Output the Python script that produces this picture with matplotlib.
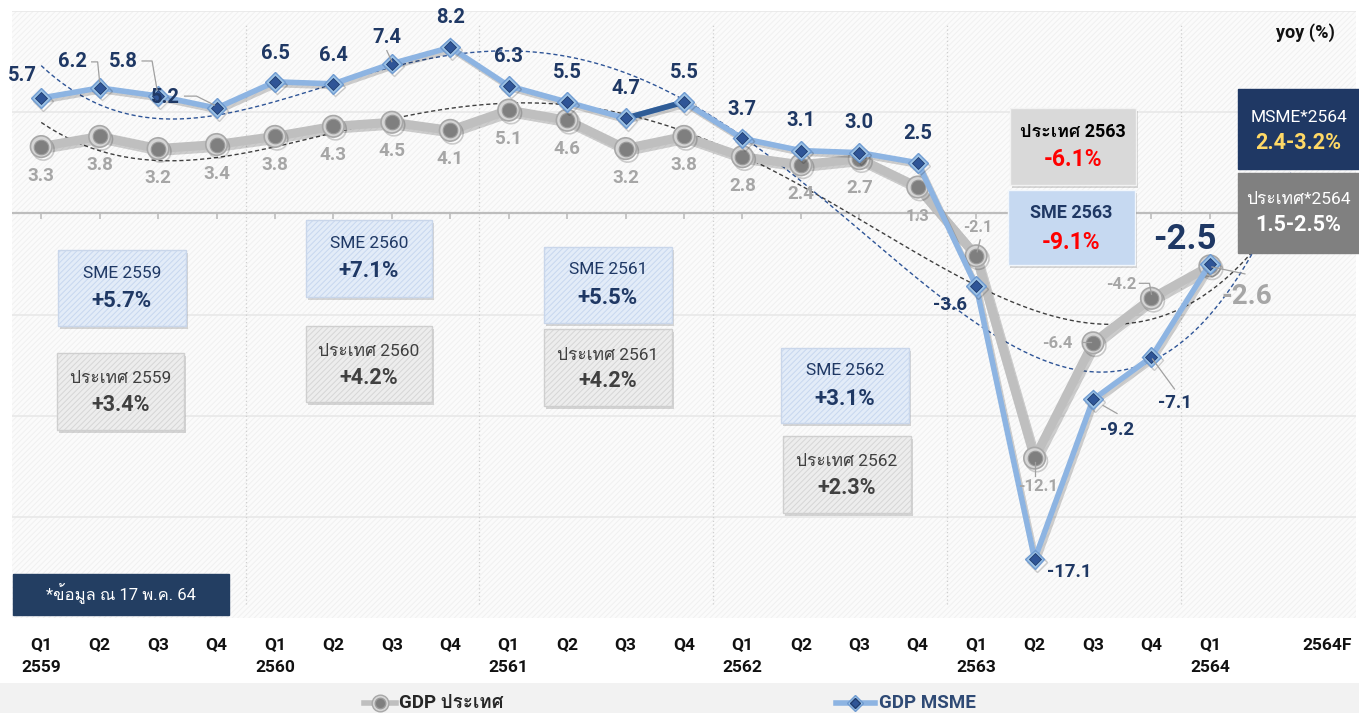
import numpy as np
import matplotlib
matplotlib.use("Agg")
import matplotlib.pyplot as plt
from matplotlib import font_manager, transforms
from matplotlib.ft2font import FT2Font
from matplotlib.patches import Rectangle
from matplotlib.lines import Line2D
import matplotlib.patheffects as pe

# ---------------- data ----------------
quarters = ["Q1", "Q2", "Q3", "Q4"] * 5 + ["Q1"]
years = ["2559", "2560", "2561", "2562", "2563", "2564"]
forecast_label = "2564F"
gdp_country = [3.3, 3.8, 3.2, 3.4, 3.8, 4.3, 4.5, 4.1, 5.1, 4.6, 3.2, 3.8,
               2.8, 2.4, 2.7, 1.3, -2.1, -12.1, -6.4, -4.2, -2.6]
gdp_msme = [5.7, 6.2, 5.8, 5.2, 6.5, 6.4, 7.4, 8.2, 6.3, 5.5, 4.7, 5.5,
            3.7, 3.1, 3.0, 2.5, -3.6, -17.1, -9.2, -7.1, -2.5]
sme_titles = ["SME 2559", "SME 2560", "SME 2561", "SME 2562"]
sme_values = ["+5.7%", "+7.1%", "+5.5%", "+3.1%"]
country_titles = ["ประเทศ 2559", "ประเทศ 2560", "ประเทศ 2561", "ประเทศ 2562"]
country_values = ["+3.4%", "+4.2%", "+4.2%", "+2.3%"]
y2563_titles = ["ประเทศ 2563", "SME 2563"]
y2563_values = ["-6.1%", "-9.1%"]
f2564_titles = ["MSME*2564", "ประเทศ*2564"]
f2564_values = ["2.4-3.2%", "1.5-2.5%"]
note_text = "*ข้อมูล ณ 17 พ.ค. 64"
legend_labels = ["GDP ประเทศ", "GDP MSME"]
unit_label = "yoy (%)"

# ---------------- fonts ----------------
def find_thai():
    for f in font_manager.fontManager.ttflist:
        try:
            ft = FT2Font(f.fname)
            if all(ft.get_char_index(ord(c)) for c in "ประเทศข้อมูลณพค"):
                return f.name
        except Exception:
            continue
    return None

thai = find_thai()
fams = ["Roboto"] + ([thai] if thai else []) + ["DejaVu Sans"]
plt.rcParams["font.family"] = fams
plt.rcParams["hatch.linewidth"] = 0.7

W, H = 1359, 713
fig = plt.figure(figsize=(W / 100, H / 100), dpi=100)
fig.patch.set_facecolor("white")
ax = fig.add_axes([12 / W, 1 - 618 / H, 1344 / W, 607 / H])
ax.set_xlim(-0.5, 22.5)
ax.set_ylim(-20, 10)
ax.set_axis_off()

def fx(px):
    return px / W

def fy(py):
    return 1 - py / H

PX2PT = 0.72

# background
ax.add_patch(Rectangle((0, 0), 1, 1, transform=ax.transAxes, facecolor="#FBFBFB",
                       edgecolor="#F0F0F0", hatch="//////", lw=0, zorder=0))

x = np.arange(len(gdp_msme))
# gridlines
for v in np.arange(-15, 11, 5):
    if v != 0:
        ax.axhline(v, color="#E8E8E8", lw=1.2, zorder=1)
# year separators
bounds = np.arange(3.5, len(x), 4)
ax.vlines(bounds, -19.3, 9.4, colors="#CFCFCF", linestyles=(0, (1, 2)), lw=0.9, zorder=1)
# zero axis and ticks
ax.plot([-0.5, x[-1] + 1.3], [0, 0], color="#BDBDBD", lw=1.6, zorder=2)
ax.vlines(x, -0.28, 0, colors="#BDBDBD", lw=1.2, zorder=2)

# trend lines (polynomial fits, 4th order, with forward forecast)
xs = np.linspace(0, x[-1] + 1.4, 300)
c_c = np.polyfit(x, gdp_country, 4)
c_m = np.polyfit(x, gdp_msme, 4)
ax.plot(xs, np.polyval(c_c, xs), ls=(0, (3, 2)), color="#404040", lw=1.0, zorder=2.5)
ax.plot(xs, np.polyval(c_m, xs), ls=(0, (3, 2)), color="#2F5597", lw=1.0, zorder=2.5)

shadow = [pe.SimpleLineShadow(offset=(1.5, -2), alpha=0.18, shadow_color="black"), pe.Normal()]
# country line
ax.plot(x, gdp_country, color="#BFBFBF", lw=6.5, solid_capstyle="round",
        solid_joinstyle="round", zorder=3, path_effects=shadow)
ax.plot(x, gdp_country, "o", ms=15.5, mfc="#D5D5D5", mec="#A8A8A8", mew=1.2, zorder=4,
        path_effects=shadow)
ax.plot(x, gdp_country, "o", ms=10.5, mfc="#7F7F7F", mec="#9A9A9A", mew=0.8, zorder=5)

# msme line
ax.plot(x, gdp_msme, color="#8DB4E2", lw=4, solid_joinstyle="round", zorder=6,
        path_effects=shadow)
ax.plot(x[10:12], gdp_msme[10:12], color="#2F5C96", lw=4, zorder=6.5)
ax.plot(x, gdp_msme, "D", ms=10, mfc="#9DC3E6", mec="#6F9BD1", mew=1.0, zorder=7,
        path_effects=shadow)
ax.plot(x, gdp_msme, "D", ms=6.6, mfc="#2F5597", mec="#1F3C6E", mew=0.6, zorder=8)

# ---------------- point labels ----------------
navy = "#1F3864"
lgray = "#A6A6A6"
msme_off = [(-19, -23), (-27, -26), (-35, -34), (-51, -11), (0, -28), (0, -28), (-5, -26),
            (0, -30), (0, -29), (0, -30), (0, -30), (0, -30), (0, -29), (0, -30), (0, -30),
            (0, -29), (-26, 19), (35, 13), (24, 31), (23, 46), (-25, -24)]
country_off = [(0, 29)] * 16 + [(2, -28), (3, 28), (-36, 1), (-30, -14), (37, 31)]
msme_size = [14.5] * 16 + [13.5, 13.5, 13.5, 13.5, 25]
country_size = [13.5] * 15 + [12, 11.5, 12, 12, 12, 20]

for i, v in enumerate(gdp_msme):
    dx, dy = msme_off[i]
    ax.annotate(f"{v:.1f}", (x[i], v), xytext=(dx * PX2PT, -dy * PX2PT),
                textcoords="offset points", ha="center", va="center",
                fontsize=msme_size[i], fontweight="bold", color=navy, zorder=20)
for i, v in enumerate(gdp_country):
    dx, dy = country_off[i]
    ax.annotate(f"{v:.1f}", (x[i], v), xytext=(dx * PX2PT, -dy * PX2PT),
                textcoords="offset points", ha="center", va="center",
                fontsize=country_size[i], fontweight="bold", color=lgray, zorder=20)

# leader lines (pixel offsets from marker)
def leader(i, vals, pts):
    base = ax.transData.transform((x[i], vals[i]))
    pp = [(base[0] + dx, base[1] - dy) for dx, dy in pts]
    xs_, ys_ = zip(*pp)
    fig.add_artist(Line2D(xs_, ys_, transform=None, color="#A0A0A0", lw=0.9, zorder=3))

leader(1, gdp_msme, [(-8, -26), (-2, -26), (0, -6)])
leader(2, gdp_msme, [(-16, -35), (-6, -35), (-1, -6)])
leader(3, gdp_msme, [(-32, -12), (-20, -12), (-2, -3)])
leader(6, gdp_msme, [(-5, -13), (0, -2)])
leader(18, gdp_msme, [(10, 6), (24, 14)])
leader(19, gdp_msme, [(1, 2), (23, 32)])
leader(16, gdp_country, [(4, -16), (1, -4)])
leader(17, gdp_country, [(0, 4), (0, 18)])
leader(18, gdp_country, [(-10, -1), (-2, -1)])
leader(19, gdp_country, [(-12, -15), (-2, -15), (0, -4)])
leader(20, gdp_msme, [(2, 3), (35, 10)])

# ---------------- boxes ----------------
def box(x0, y0, x1, y1, face, edge, hatch=None, hatchcol=None, sh=True):
    if sh:
        fig.add_artist(Rectangle((fx(x0 + 2), fy(y1 + 3)), fx(x1) - fx(x0), fy(y0) - fy(y1),
                                 transform=fig.transFigure, facecolor="#000000",
                                 alpha=0.15, lw=0, zorder=30))
    fig.add_artist(Rectangle((fx(x0), fy(y1)), fx(x1) - fx(x0), fy(y0) - fy(y1),
                             transform=fig.transFigure, facecolor=face, lw=0, zorder=31))
    if hatch:
        fig.add_artist(Rectangle((fx(x0), fy(y1)), fx(x1) - fx(x0), fy(y0) - fy(y1),
                                 transform=fig.transFigure, facecolor="none",
                                 edgecolor=hatchcol, hatch=hatch, lw=0, zorder=32))
    fig.add_artist(Rectangle((fx(x0), fy(y1)), fx(x1) - fx(x0), fy(y0) - fy(y1),
                             transform=fig.transFigure, facecolor="none",
                             edgecolor=edge, lw=1.0, zorder=33))

def btext(cx, cy, s, size, weight, color):
    fig.text(fx(cx), fy(cy), s, ha="center", va="center", fontsize=size,
             fontweight=weight, color=color, zorder=40)

sme_boxes = [(58, 250, 186, 326), (306, 220, 432, 297), (544, 247, 672, 323), (781, 348, 909, 423)]
cty_boxes = [(57, 353, 184, 430), (306, 326, 432, 402), (544, 329, 672, 406), (783, 436, 911, 513)]
for (b, t, v) in zip(sme_boxes, sme_titles, sme_values):
    box(*b, face="#E3ECF8", edge="#C9D6EA", hatch="//////", hatchcol="#C7D7EF")
    cx = (b[0] + b[2]) / 2
    btext(cx, b[1] + 23, t, 12.5, "normal", navy)
    btext(cx, b[1] + 51, v, 16, "bold", navy)
for (b, t, v) in zip(cty_boxes, country_titles, country_values):
    box(*b, face="#EDEDED", edge="#CFCFCF", hatch="//////", hatchcol="#D6D6D6")
    cx = (b[0] + b[2]) / 2
    btext(cx, b[1] + 26, t, 12.5, "normal", "#404040")
    btext(cx, b[1] + 52, v, 15.5, "bold", "#404040")

# 2563 boxes
b = (1010, 108, 1136, 185)
box(*b, face="#D9D9D9", edge="#F2F2F2")
btext((b[0] + b[2]) / 2, 132, y2563_titles[0], 13, "bold", "#000000")
btext((b[0] + b[2]) / 2, 159, y2563_values[0], 16.5, "bold", "#FF0000")
b = (1008, 190, 1135, 265)
box(*b, face="#C6D9F1", edge="#F2F7FC")
btext((b[0] + b[2]) / 2, 213, y2563_titles[1], 13, "bold", navy)
btext((b[0] + b[2]) / 2, 242, y2563_values[1], 16.5, "bold", "#FF0000")

# 2564 forecast boxes
b = (1238, 89, 1359, 169)
box(*b, face="#1F3864", edge="#1F3864", sh=False)
btext((b[0] + b[2]) / 2, 117, f2564_titles[0], 12.5, "normal", "white")
btext((b[0] + b[2]) / 2, 143, f2564_values[0], 15.5, "bold", "#FFD966")
b = (1238, 173, 1359, 253)
box(*b, face="#808080", edge="#808080", sh=False)
btext((b[0] + b[2]) / 2, 200, f2564_titles[1], 12.5, "normal", "white")
btext((b[0] + b[2]) / 2, 225, f2564_values[1], 15.5, "bold", "white")

# note
box(13, 574, 229, 615, face="#233E62", edge="#233E62", sh=False)
btext(121, 594, note_text, 12, "normal", "white")

# unit label
fig.text(fx(1305), fy(33), unit_label, ha="center", va="center", fontsize=13,
         fontweight="bold", color="#111111")

# ---------------- x labels ----------------
bt = transforms.blended_transform_factory(ax.transData, fig.transFigure)
for i, q in enumerate(quarters):
    ax.text(x[i], fy(645), q, transform=bt, ha="center", va="center", fontsize=12.5,
            fontweight="bold", color="#111111", clip_on=False)
for k, yr in enumerate(years):
    ax.text(x[4 * k], fy(668), yr, transform=bt, ha="center", va="center", fontsize=12.5,
            fontweight="bold", color="#111111", clip_on=False)
ax.text(x[-1] + 2, fy(645), forecast_label, transform=bt, ha="center", va="center",
        fontsize=12.5, fontweight="bold", color="#111111", clip_on=False)

# ---------------- legend ----------------
fig.add_artist(Rectangle((0, 0), 1, fy(683), transform=fig.transFigure,
                         facecolor="#F2F2F2", lw=0, zorder=0.5))
ly = fy(703)
fig.add_artist(Line2D([fx(364), fx(396)], [ly, ly], transform=fig.transFigure,
                      color="#BFBFBF", lw=4, zorder=2))
fig.add_artist(Line2D([fx(380)], [ly], transform=fig.transFigure, marker="o", ms=12,
                      mfc="#D5D5D5", mec="#A8A8A8", zorder=3))
fig.add_artist(Line2D([fx(380)], [ly], transform=fig.transFigure, marker="o", ms=7.5,
                      mfc="#7F7F7F", mec="#9A9A9A", zorder=4))
fig.text(fx(399), ly, legend_labels[0], ha="left", va="center", fontsize=13.5,
         fontweight="bold", color="#262626")
fig.add_artist(Line2D([fx(836), fx(875)], [ly, ly], transform=fig.transFigure,
                      color="#8DB4E2", lw=4, zorder=2))
fig.add_artist(Line2D([fx(855)], [ly], transform=fig.transFigure, marker="D", ms=8.5,
                      mfc="#9DC3E6", mec="#6F9BD1", zorder=3))
fig.add_artist(Line2D([fx(855)], [ly], transform=fig.transFigure, marker="D", ms=5,
                      mfc="#2F5597", mec="#1F3C6E", zorder=4))
fig.text(fx(879), ly, legend_labels[1], ha="left", va="center", fontsize=13.5,
         fontweight="bold", color="#2F4A75")

fig.savefig("out.png", dpi=100)
